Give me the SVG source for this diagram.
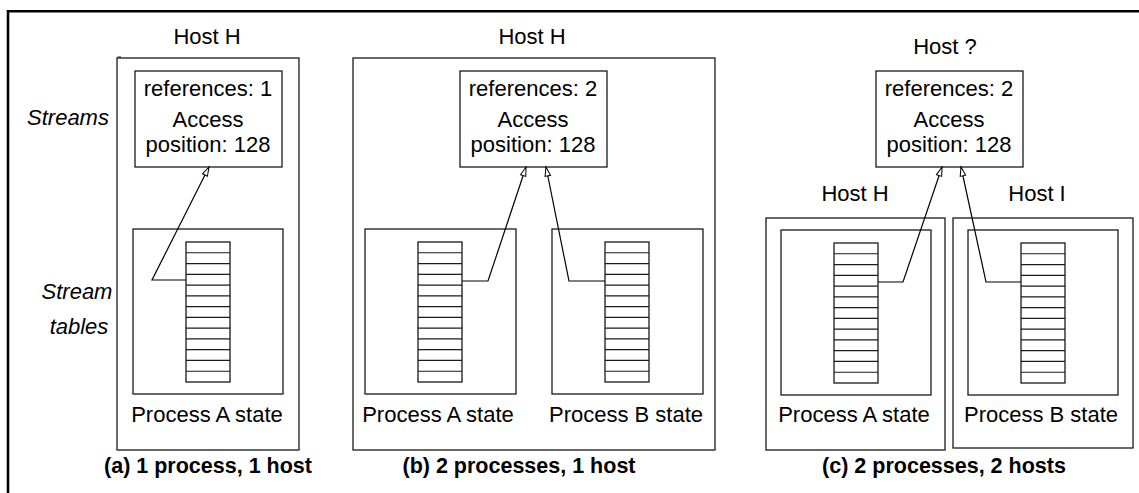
<svg xmlns="http://www.w3.org/2000/svg" width="1139" height="493" viewBox="0 0 1139 493">
  <style>
    .box { fill: none; stroke: #1a1a1a; stroke-width: 1.3; }
    .frame { fill: none; stroke: #000; stroke-width: 2.6; }
    .lbl { font-family: "Liberation Sans", Arial, sans-serif; font-size: 22px; fill: #000; text-anchor: middle; }
    .side { font-family: "Liberation Sans", Arial, sans-serif; font-size: 22px; font-style: italic; fill: #000; text-anchor: middle; }
    .cap { font-family: "Liberation Sans", Arial, sans-serif; font-size: 21.5px; font-weight: bold; fill: #000; text-anchor: middle; }
    .link { fill: none; stroke: #000; stroke-width: 1.2; marker-end: url(#open); }
  </style>
  <defs>
    <marker id="open" markerUnits="userSpaceOnUse" markerWidth="12" markerHeight="8" refX="9" refY="2.75" orient="auto" overflow="visible">
      <path d="M0,0 L9,2.75 L0,5.5 Z" fill="#fff" stroke="#000" stroke-width="1"/>
    </marker>
    <!-- stream table: 13 slots, 44 x 140 -->
    <g id="table">
      <rect x="0" y="0" width="44" height="140" fill="#fff" stroke="#1a1a1a" stroke-width="1.3"/>
      <path d="M0,10.77H44M0,21.54H44M0,32.31H44M0,43.08H44M0,53.85H44M0,64.62H44M0,75.38H44M0,86.15H44M0,96.92H44M0,107.69H44M0,118.46H44M0,129.23H44" stroke="#1a1a1a" stroke-width="1.2"/>
    </g>
  </defs>

  <rect width="1139" height="493" fill="#fff"/>
  <!-- outer frame: top and left rules only -->
  <path class="frame" d="M8,493 V11.3 H1139"/>

  <!-- row labels -->
  <g id="row-labels">
    <text class="side" x="68" y="125">Streams</text>
    <text class="side" x="77" y="299">Stream</text>
    <text class="side" x="79" y="334">tables</text>
  </g>

  <!-- (a) one process, one host -->
  <g id="a-host">
    <text class="lbl" x="207" y="44">Host H</text>
    <rect class="box" x="117" y="58" width="182" height="392"/>
    <path d="M117.5,57 H121" stroke="#1a1a1a" stroke-width="1"/>
  </g>
  <g id="a-stream">
    <rect class="box" x="135" y="71" width="147" height="96"/>
    <text class="lbl" x="208" y="96">references: 1</text>
    <text class="lbl" x="208" y="127">Access</text>
    <text class="lbl" x="208" y="152">position: 128</text>
  </g>
  <g id="a-process">
    <rect class="box" x="133" y="229" width="150" height="165"/>
    <use href="#table" x="186" y="242"/>
    <text class="lbl" x="207" y="422">Process A state</text>
  </g>
  <text class="cap" x="208" y="473">(a) 1 process, 1 host</text>

  <!-- (b) two processes, one host -->
  <g id="b-host">
    <text class="lbl" x="532" y="44">Host H</text>
    <rect class="box" x="353" y="58" width="362" height="392"/>
  </g>
  <g id="b-stream">
    <rect class="box" x="460" y="71" width="147" height="96"/>
    <text class="lbl" x="533" y="96">references: 2</text>
    <text class="lbl" x="533" y="127">Access</text>
    <text class="lbl" x="533" y="152">position: 128</text>
  </g>
  <g id="b-process-a">
    <rect class="box" x="365" y="229" width="151" height="165"/>
    <use href="#table" x="418" y="242"/>
    <text class="lbl" x="438" y="422">Process A state</text>
  </g>
  <g id="b-process-b">
    <rect class="box" x="552" y="229" width="151" height="165"/>
    <use href="#table" x="605" y="242"/>
    <text class="lbl" x="626" y="422">Process B state</text>
  </g>
  <text class="cap" x="519" y="473">(b) 2 processes, 1 host</text>

  <!-- (c) two processes, two hosts -->
  <g id="c-stream">
    <text class="lbl" x="945" y="54">Host ?</text>
    <rect class="box" x="876" y="71" width="147" height="96"/>
    <text class="lbl" x="949" y="96">references: 2</text>
    <text class="lbl" x="949" y="127">Access</text>
    <text class="lbl" x="949" y="152">position: 128</text>
  </g>
  <g id="c-host-h">
    <text class="lbl" x="855" y="201">Host H</text>
    <rect class="box" x="766" y="218" width="179" height="232"/>
    <rect class="box" x="781" y="230" width="150" height="165"/>
    <use href="#table" x="834" y="243"/>
    <text class="lbl" x="854" y="422">Process A state</text>
  </g>
  <g id="c-host-i">
    <text class="lbl" x="1037" y="201">Host I</text>
    <rect class="box" x="953" y="218" width="180" height="230"/>
    <rect class="box" x="968" y="230" width="150" height="165"/>
    <use href="#table" x="1021" y="243"/>
    <text class="lbl" x="1041" y="422">Process B state</text>
  </g>
  <text class="cap" x="944" y="473">(c) 2 processes, 2 hosts</text>

  <!-- table slot to stream links -->
  <g id="connectors">
    <polyline class="link" points="186,280 152,280 209,167"/>
    <polyline class="link" points="462,281 488,281 526,167"/>
    <polyline class="link" points="605,281 569,281 546,167"/>
    <polyline class="link" points="878,282 903,282 942,167"/>
    <polyline class="link" points="1021,282 986,282 961,167"/>
  </g>
</svg>
